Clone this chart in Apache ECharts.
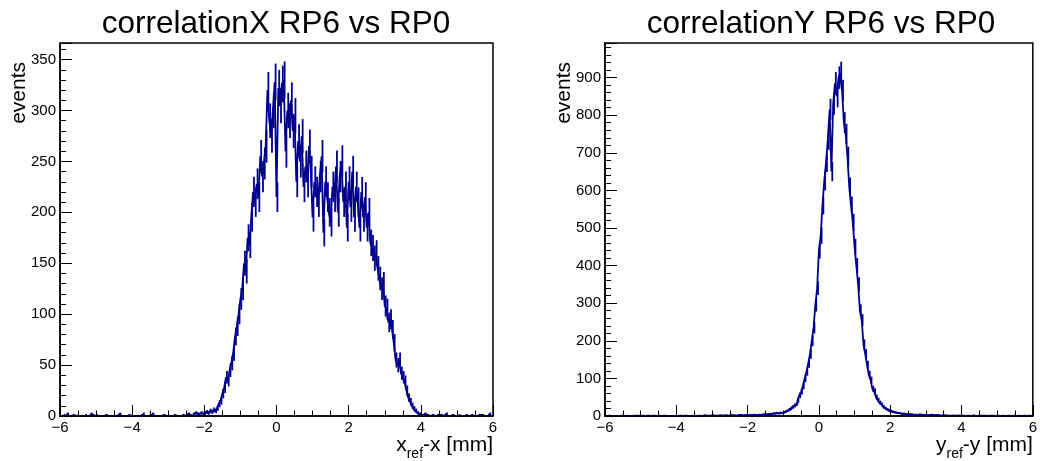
<!DOCTYPE html>
<html>
<head>
<meta charset="utf-8">
<script src="https://cdn.jsdelivr.net/npm/echarts@6/dist/echarts.min.js"></script>
<style>
html,body{margin:0;padding:0;background:#ffffff;}
#chart{width:1040px;height:461px;}
</style>
</head>
<body>
<div id="chart"></div>
<script>
// ---- data ----
const titles = ['correlationX RP6 vs RP0', 'correlationY RP6 vs RP0'];
const yTitle = 'events';
const xTitleParts = [['x', 'ref', '-x [mm]'], ['y', 'ref', '-y [mm]']];
const xTickLabels = ['\u22126', '\u22124', '\u22122', '0', '2', '4', '6'];
const xTickValues = [-6, -4, -2, 0, 2, 4, 6];
const xLow = -6, xHigh = 6, binWidth = 0.05;
const yMaxLeft = 366.3, yMaxRight = 992;

// counts per 0.05 mm bin, from x = -6 to 6 (240 bins)
const countsX = [
  0,0,1,0,2,0,0,1,0,0,
  0,0,0,0,1,0,0,2,1,0,
  1,0,0,0,0,1,0,0,0,0,
  0,0,1,2,0,0,0,0,1,0,
  0,0,0,0,0,1,2,0,0,0,
  1,2,0,0,0,0,0,1,0,0,
  0,0,0,1,0,0,0,0,1,0,
  1,2,1,0,2,3,2,1,3,2,
  3,4,3,5,4,6,5,8,12,15,
  22,28,38,35,45,52,62,78,88,100,
  115,125,150,142,175,168,195,220,210,228,
  215,255,235,248,265,320,290,275,300,328,
  215,322,305,326,330,260,300,290,310,280,
  295,230,270,250,275,225,245,230,265,240,
  195,230,220,210,235,255,180,230,215,200,
  190,225,215,245,200,235,250,210,225,185,
  230,205,240,195,225,210,185,220,195,215,
  185,200,170,165,155,160,145,135,125,130,
  108,105,92,95,85,72,55,50,55,42,
  38,34,25,18,14,10,7,5,3,2,
  1,0,2,1,0,0,1,0,0,1,
  0,1,0,0,2,0,0,1,0,0,
  0,1,0,0,0,1,0,0,1,0,
  0,0,1,0,1,0,0,0,2,0
];

const countsY = [
  0,1,0,0,0,1,0,0,0,1,
  0,0,1,0,0,0,1,0,1,0,
  0,1,0,0,1,0,0,1,0,0,
  1,0,0,1,0,1,0,0,1,0,
  0,1,1,0,0,1,0,1,0,1,
  1,0,1,1,0,2,0,1,1,0,
  2,1,0,1,2,1,1,2,0,1,
  2,1,2,1,1,3,2,1,2,3,
  2,3,2,4,3,2,4,3,4,5,
  4,5,6,5,7,6,8,7,9,8,
  10,12,14,17,20,24,28,32,42,55,
  65,80,100,118,140,165,200,235,295,340,
  440,480,560,625,675,735,815,650,830,885,
  850,900,912,865,780,750,690,610,560,515,
  450,400,350,280,255,190,165,135,110,95,
  72,66,50,42,35,30,24,20,17,14,
  13,11,10,9,8,7,6,6,5,5,
  4,5,4,3,4,3,4,3,3,2,
  3,2,3,4,2,3,2,2,1,2,
  2,1,2,1,1,2,1,1,2,1,
  1,1,0,1,1,0,2,1,0,1,
  0,1,1,0,0,1,0,1,0,0,
  1,0,0,1,0,0,1,0,0,1,
  0,0,1,0,0,1,0,0,1,0
];

// ---- chart ----
const FONT = 'Liberation Sans, Arial, Helvetica, sans-serif';
const HCOLOR = '#00008f';
const binCenters = countsX.map((_, i) => xLow + binWidth * (i + 0.5));

const grids = [
  { left: 60, top: 43, width: 433, height: 375 },
  { left: 605, top: 43, width: 432, height: 375 }
];

function xLabelFmt(v) {
  const k = xTickValues.indexOf(Math.round(v));
  return k >= 0 ? xTickLabels[k] : '';
}

function makeXAxis(gi) {
  const p = xTitleParts[gi];
  return {
    type: 'value', gridIndex: gi, min: xLow, max: xHigh, interval: 2, z: 5,
    axisLine: { show: true, onZero: false, lineStyle: { color: '#000', width: 1.5 } },
    axisTick: { show: true, inside: true, length: 11, lineStyle: { color: '#000', width: 1 } },
    minorTick: { show: true, splitNumber: 4, length: 5.5, lineStyle: { color: '#000', width: 1 } },
    splitLine: { show: false },
    axisLabel: { show: true, margin: 4, fontSize: 15, fontFamily: FONT, color: '#000', formatter: xLabelFmt },
    name: '{m|' + p[0] + '}{s|' + p[1] + '}{m|' + p[2] + '}',
    nameLocation: 'end', nameGap: 0, nameMoveOverlap: false,
    nameTextStyle: {
      align: 'right', verticalAlign: 'top', padding: [19, 0, 0, 0],
      rich: {
        m: { fontSize: 21, lineHeight: 26, verticalAlign: 'top', fontFamily: FONT, color: '#000' },
        s: { fontSize: 14, lineHeight: 14, verticalAlign: 'bottom', fontFamily: FONT, color: '#000' }
      }
    }
  };
}

function makeYAxis(gi, ymax, interval) {
  return {
    type: 'value', gridIndex: gi, min: 0, max: ymax, interval: interval, z: 5,
    axisLine: { show: true, onZero: false, lineStyle: { color: '#000', width: 1.5 } },
    axisTick: { show: true, inside: true, length: 12, lineStyle: { color: '#000', width: 1 } },
    minorTick: { show: true, splitNumber: 5, length: 6, lineStyle: { color: '#000', width: 1 } },
    splitLine: { show: false },
    axisLabel: { show: true, margin: 4, fontSize: 15, fontFamily: FONT, color: '#000', showMaxLabel: false },
    name: yTitle, nameLocation: 'end', nameGap: -19, nameRotate: 90, nameMoveOverlap: false,
    nameTextStyle: { fontSize: 21, fontFamily: FONT, color: '#000', align: 'right', verticalAlign: 'bottom', padding: [0, 0, 30, 0] }
  };
}

function histSeries(counts, gi) {
  const pts = binCenters.map((c, i) => [c, counts[i]]);
  return [
    {
      type: 'line', xAxisIndex: gi, yAxisIndex: gi, data: pts, step: 'middle',
      symbol: 'none', showSymbol: false, silent: true, clip: true, z: 3,
      lineStyle: { color: HCOLOR, width: 1.8 }
    },
    {
      type: 'custom', xAxisIndex: gi, yAxisIndex: gi, data: pts, clip: true, silent: true, z: 3,
      renderItem: function (params, api) {
        const x = api.value(0), v = api.value(1);
        if (!(v > 0)) return null;
        const e = Math.sqrt(v);
        const a = api.coord([x, Math.max(0, v - e)]);
        const b = api.coord([x, v + e]);
        return { type: 'line', shape: { x1: a[0], y1: a[1], x2: b[0], y2: b[1] },
                 style: { stroke: HCOLOR, lineWidth: 1.8 } };
      }
    }
  ];
}

const chart = echarts.init(document.getElementById('chart'), null, { renderer: 'canvas' });
chart.setOption({
  animation: false,
  backgroundColor: '#ffffff',
  title: [
    { text: titles[0], left: 271, top: 3, textAlign: 'center',
      textStyle: { fontSize: 31.5, fontWeight: 'normal', color: '#000', fontFamily: FONT } },
    { text: titles[1], left: 816, top: 3, textAlign: 'center',
      textStyle: { fontSize: 31.5, fontWeight: 'normal', color: '#000', fontFamily: FONT } }
  ],
  grid: grids.map(g => Object.assign({ show: true, borderColor: '#000', borderWidth: 1.5, backgroundColor: 'transparent' }, g)),
  xAxis: [makeXAxis(0), makeXAxis(1)],
  yAxis: [makeYAxis(0, yMaxLeft, 50), makeYAxis(1, yMaxRight, 100)],
  series: [].concat(histSeries(countsX, 0), histSeries(countsY, 1))
});
</script>
</body>
</html>
